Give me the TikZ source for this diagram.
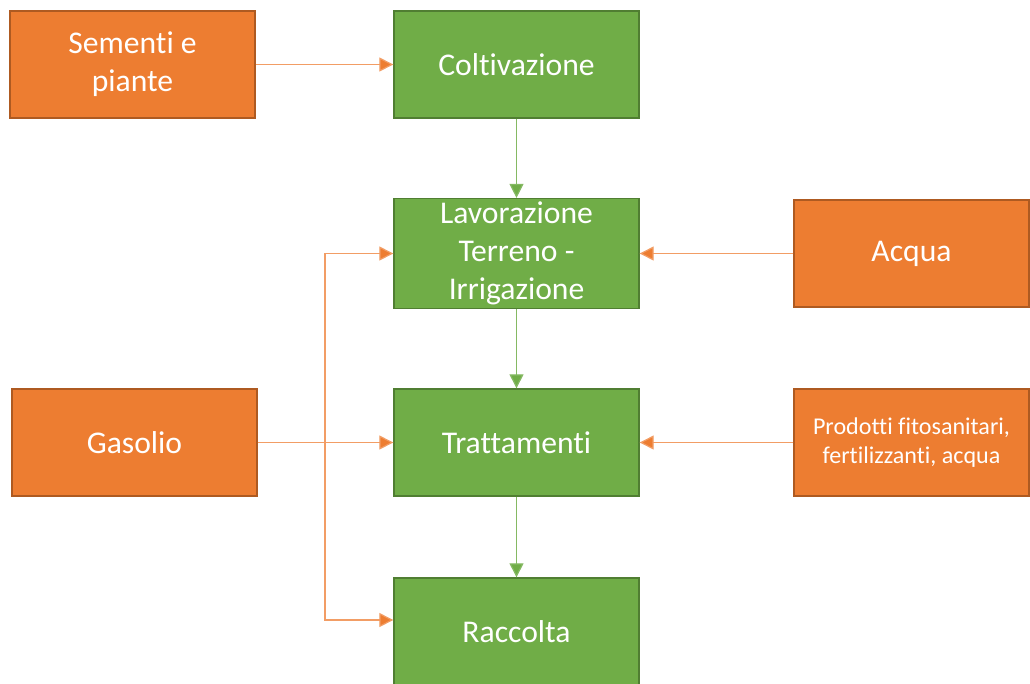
\documentclass[tikz,border=0pt]{standalone}
\usepackage{fontspec}
\setmainfont{Carlito}[Ligatures={NoCommon,NoContextual}]
\usepackage{xcolor}
\usepackage{tikz}
\usetikzlibrary{positioning}
\usetikzlibrary{calc}
\usetikzlibrary{arrows.meta}

\definecolor{inorange}{HTML}{ED7D31}
\definecolor{inorangedark}{HTML}{AE5A21}
\definecolor{stepgreen}{HTML}{70AD47}
\definecolor{stepgreendark}{HTML}{507E32}

\begin{document}
\begin{tikzpicture}[x=0.02cm, y=-0.02cm,
    inbox/.style={draw=inorangedark, fill=inorange, line width=0.8pt, text=white, align=center,
      minimum height=2.14cm, inner sep=2pt, font=\fontsize{18}{21.5}\selectfont},
    stepbox/.style={draw=stepgreendark, fill=stepgreen, line width=0.8pt, text=white, align=center,
      minimum width=4.9cm, minimum height=2.14cm, inner sep=2pt, font=\fontsize{18}{21.5}\selectfont},
    oline/.style={draw=inorange!75, line width=0.7pt, -{Triangle[length=0.28cm,width=0.28cm,fill=inorange]}},
    gline/.style={draw=stepgreen!85, line width=0.7pt, -{Triangle[length=0.28cm,width=0.28cm,fill=stepgreen]}}]
  \useasboundingbox (0,0) rectangle (1030,683);
  % input boxes
  \node[inbox, minimum width=4.9cm] (sementi) at (132.5,64.5) {Sementi e\\piante};
  \node[inbox, minimum width=4.9cm] (gasolio) at (134.5,442.5) {Gasolio};
  \node[inbox, minimum width=4.7cm] (acqua) at (911.5,253.5) {Acqua};
  \node[inbox, minimum width=4.7cm, font=\fontsize{13.7}{16.5}\selectfont] (prodotti) at (911.5,442.5) {Prodotti fitosanitari,\\fertilizzanti, acqua};
  % process steps
  \node[stepbox] (coltiv) at (516.5,64.5) {Coltivazione};
  \node[stepbox] (lavor) at (516.5,253.5) {Lavorazione\\Terreno -\\Irrigazione};
  \node[stepbox] (tratt) at (516.5,442.5) {Trattamenti};
  \node[stepbox] (raccolta) at (516.5,631.5) {Raccolta};
  % flow
  \draw[gline] (coltiv) -- (lavor);
  \draw[gline] (lavor) -- (tratt);
  \draw[gline] (tratt) -- (raccolta);
  \draw[oline] (sementi) -- (coltiv);
  \draw[oline] (acqua) -- (lavor);
  \draw[oline] (prodotti) -- (tratt);
  \draw[oline] (gasolio) -- (tratt);
  \coordinate (split) at (325,442.5);
  \coordinate (rin) at (raccolta.west |- 0,620);
  \draw[oline] (split) |- (lavor.west);
  \draw[oline] (split) |- (rin);
\end{tikzpicture}
\end{document}
